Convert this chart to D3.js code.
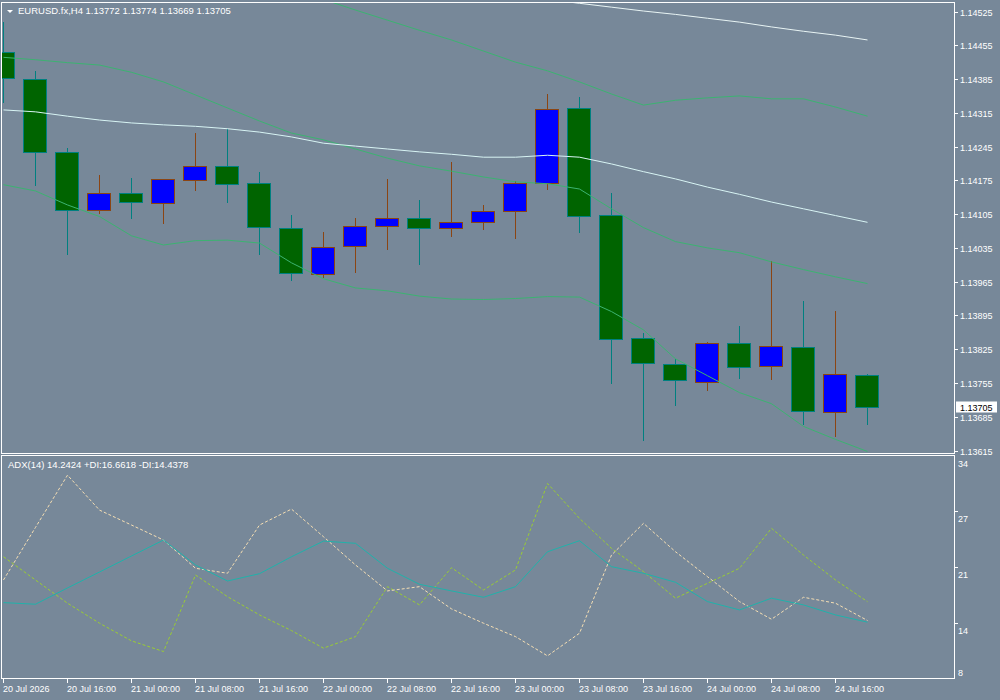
<!DOCTYPE html>
<html>
<head>
<meta charset="utf-8">
<script src="https://cdn.jsdelivr.net/npm/d3@7"></script>
<style>
body { margin: 0; background: #778899; }
text { font-family: "Liberation Sans", Arial, sans-serif; font-size: 9px; fill: #fff; }
text.head { font-size: 9.5px; }
</style>
</head>
<body>
<svg id="chart" width="1000" height="700"></svg>
<script>
// EURUSD.fx H4, 20 Jul 08:00 .. 24 Jul 20:00
var times = ["20 Jul 08:00", "20 Jul 12:00", "20 Jul 16:00", "20 Jul 20:00", "21 Jul 00:00", "21 Jul 04:00", "21 Jul 08:00",
  "21 Jul 12:00", "21 Jul 16:00", "21 Jul 20:00", "22 Jul 00:00", "22 Jul 04:00", "22 Jul 08:00", "22 Jul 12:00",
  "22 Jul 16:00", "22 Jul 20:00", "23 Jul 00:00", "23 Jul 04:00", "23 Jul 08:00", "23 Jul 12:00", "23 Jul 16:00",
  "23 Jul 20:00", "24 Jul 00:00", "24 Jul 04:00", "24 Jul 08:00", "24 Jul 12:00", "24 Jul 16:00", "24 Jul 20:00"];

var opens = [1.14441, 1.14386, 1.14233, 1.14113, 1.14148, 1.14128, 1.14175, 1.14204, 1.14169, 1.14076, 1.13981, 1.14039, 1.14080, 1.14097,
  1.14076, 1.14088, 1.14111, 1.14170, 1.14324, 1.14103, 1.13848, 1.13794, 1.13756, 1.13838, 1.13790, 1.13830, 1.13695, 1.13772];
var highs = [1.14503, 1.14402, 1.14242, 1.14186, 1.14180, 1.14178, 1.14273, 1.14282, 1.14192, 1.14103, 1.14068, 1.14097, 1.14178, 1.14134,
  1.14213, 1.14124, 1.14174, 1.14354, 1.14348, 1.14149, 1.13859, 1.13805, 1.13839, 1.13874, 1.14008, 1.13925, 1.13905, 1.13774];
var lows = [1.14338, 1.14166, 1.14022, 1.14108, 1.14096, 1.14086, 1.14156, 1.14131, 1.14022, 1.13969, 1.13974, 1.13984, 1.14032, 1.14001,
  1.14059, 1.14075, 1.14056, 1.14157, 1.14067, 1.13754, 1.13636, 1.13709, 1.13740, 1.13765, 1.13763, 1.13669, 1.13645, 1.13669];
var closes = [1.14388, 1.14233, 1.14113, 1.14148, 1.14130, 1.14177, 1.14204, 1.14167, 1.14078, 1.13983, 1.14037, 1.14080, 1.14097, 1.14076,
  1.14088, 1.14111, 1.14170, 1.14322, 1.14101, 1.13846, 1.13796, 1.13761, 1.13838, 1.13788, 1.13832, 1.13696, 1.13774, 1.13705];

// envelope / moving average lines on the price chart (null = off chart)
var bandUpper = [null, null, null, null, null, null, null, null, null, 1.14573, 1.14550, 1.14528, 1.14507, 1.14486,
  1.14466, 1.14443, 1.14420, 1.14402, 1.14379, 1.14354, 1.14331, 1.14341, 1.14346, 1.14350, 1.14344, 1.14344, 1.14327, 1.14308];
var bandMiddle = [1.14430, 1.14425, 1.14419, 1.14414, 1.14399, 1.14379, 1.14352, 1.14325, 1.14298, 1.14273, 1.14259, 1.14240, 1.14221, 1.14205,
  1.14194, 1.14182, 1.14172, 1.14168, 1.14157, 1.14116, 1.14077, 1.14048, 1.14035, 1.14025, 1.14006, 1.13990, 1.13975, 1.13961];
var bandLower = [1.14166, 1.14153, 1.14124, 1.14100, 1.14060, 1.14041, 1.14050, 1.14051, 1.14045, 1.14004, 1.13971, 1.13952, 1.13946, 1.13935,
  1.13929, 1.13928, 1.13930, 1.13934, 1.13933, 1.13903, 1.13865, 1.13805, 1.13770, 1.13735, 1.13712, 1.13665, 1.13638, 1.13613];
var maSlow = [1.14321, 1.14317, 1.14308, 1.14300, 1.14294, 1.14290, 1.14287, 1.14282, 1.14275, 1.14265, 1.14252, 1.14246, 1.14240, 1.14234,
  1.14229, 1.14223, 1.14223, 1.14227, 1.14223, 1.14209, 1.14193, 1.14178, 1.14161, 1.14146, 1.14130, 1.14116, 1.14102, 1.14088];
var maTop = [null, null, null, null, null, null, null, null, null, null, null, null, null, null,
  null, null, 1.14559, 1.14550, 1.14542, 1.14534, 1.14526, 1.14519, 1.14511, 1.14503, 1.14493, 1.14484, 1.14476, 1.14466];

// ADX(14)
var adx = [16.55, 16.36, 18.28, 20.16, 22.05, 23.93, 20.99, 19.10, 19.96, 21.96, 23.81, 23.54, 20.60, 18.71,
  17.93, 17.18, 18.43, 22.55, 23.85, 20.79, 20.01, 18.95, 16.67, 15.69, 17.07, 16.28, 15.10, 14.24];
var plusDI = [21.96, 19.22, 16.48, 14.12, 12.04, 10.78, 19.81, 17.25, 15.10, 13.25, 11.18, 12.54, 18.43, 16.28,
  20.67, 18.04, 20.40, 30.60, 26.48, 22.95, 20.20, 17.07, 18.83, 20.60, 25.31, 22.16, 19.22, 16.66];
var minusDI = [19.22, 25.42, 31.58, 27.46, 25.70, 23.93, 20.60, 20.01, 25.70, 27.58, 24.32, 20.99, 17.93, 18.43,
  15.81, 14.12, 12.54, 10.27, 12.94, 22.16, 25.90, 22.55, 19.61, 16.67, 14.59, 17.18, 16.48, 14.44];
var adxLastValues = [14.2424, 16.6618, 14.4378];

var priceTicks = [1.14525, 1.14455, 1.14385, 1.14315, 1.14245, 1.14175, 1.14105, 1.14035, 1.13965, 1.13895, 1.13825, 1.13755, 1.13685, 1.13615];
var adxRange = [7.6, 33.9];
var adxTickLabels = ["34", "27", "21", "14", "8"];
var timeTickIdx = [0, 2, 4, 6, 8, 10, 12, 14, 16, 18, 20, 22, 24, 26];
var timeTickLabels = ["20 Jul 2026", "20 Jul 16:00", "21 Jul 00:00", "21 Jul 08:00", "21 Jul 16:00", "22 Jul 00:00", "22 Jul 08:00",
  "22 Jul 16:00", "23 Jul 00:00", "23 Jul 08:00", "23 Jul 16:00", "24 Jul 00:00", "24 Jul 08:00", "24 Jul 16:00"];

var svg = d3.select("#chart"),
    left = 1.5, right = 954.5,
    mainTop = 2.5, mainBottom = 453.5,
    subTop = 455.5, subBottom = 678.5;

var x = d3.scaleLinear().domain([0, times.length - 1]).range([3.5, 3.5 + 32 * (times.length - 1)]);
var y = d3.scaleLinear().domain([1.13615, 1.14525]).range([450.5, 11.5]);
var ya = d3.scaleLinear().domain(adxRange).range([subBottom, subTop]);

var defs = svg.append("defs");
defs.append("clipPath").attr("id", "clipMain").append("rect")
    .attr("x", left).attr("y", mainTop).attr("width", right - left).attr("height", mainBottom - mainTop);
defs.append("clipPath").attr("id", "clipSub").append("rect")
    .attr("x", left).attr("y", subTop).attr("width", right - left).attr("height", subBottom - subTop);

svg.append("rect").attr("width", 1000).attr("height", 700).attr("fill", "#778899");

// candles
var candles = times.map(function(t, i) {
    return {i: i, o: opens[i], h: highs[i], l: lows[i], c: closes[i]};
});
function bear(d) { return d.c < d.o; }
var main = svg.append("g").attr("clip-path", "url(#clipMain)");

main.append("g").selectAll("line")
  .data(candles)
  .enter().append("line")
    .attr("x1", function(d) { return x(d.i); })
    .attr("x2", function(d) { return x(d.i); })
    .attr("y1", function(d) { return Math.round(y(d.h)); })
    .attr("y2", function(d) { return Math.round(y(d.l)) + 1; })
    .attr("stroke", function(d) { return bear(d) ? "#008080" : "#8b4513"; })
    .attr("shape-rendering", "crispEdges");

main.append("g").selectAll("rect")
  .data(candles)
  .enter().append("rect")
    .attr("x", function(d) { return x(d.i) - 12; })
    .attr("width", 23)
    .attr("y", function(d) { return Math.round(y(Math.max(d.o, d.c))) + 0.5; })
    .attr("height", function(d) { return Math.max(1, Math.round(y(Math.min(d.o, d.c))) - Math.round(y(Math.max(d.o, d.c)))); })
    .attr("fill", function(d) { return bear(d) ? "#006400" : "#0000ff"; })
    .attr("stroke", function(d) { return bear(d) ? "#008080" : "#8b4513"; })
    .attr("shape-rendering", "crispEdges");

// lines on price chart
var priceLine = d3.line()
    .defined(function(d) { return d != null; })
    .x(function(d, i) { return x(i); })
    .y(function(d) { return y(d); });

[[bandUpper, "#3cb371"], [bandMiddle, "#3cb371"], [bandLower, "#3cb371"], [maSlow, "#d8f4f4"], [maTop, "#e8f4f4"]]
  .forEach(function(s) {
    main.append("path").datum(s[0])
      .attr("d", priceLine)
      .attr("fill", "none")
      .attr("stroke", s[1])
      .attr("stroke-width", 1);
  });

// ADX panel
var sub = svg.append("g").attr("clip-path", "url(#clipSub)");
var adxLine = d3.line()
    .x(function(d, i) { return x(i); })
    .y(function(d) { return ya(d); });

sub.append("path").datum(plusDI).attr("d", adxLine)
  .attr("fill", "none").attr("stroke", "#9acd32").attr("stroke-dasharray", "3,2");
sub.append("path").datum(minusDI).attr("d", adxLine)
  .attr("fill", "none").attr("stroke", "#f5deb3").attr("stroke-dasharray", "3,2");
sub.append("path").datum(adx).attr("d", adxLine)
  .attr("fill", "none").attr("stroke", "#20b2aa");

// frames
[[mainTop, mainBottom], [subTop, subBottom]].forEach(function(p) {
    svg.append("rect")
      .attr("x", left).attr("y", p[0])
      .attr("width", right - left).attr("height", p[1] - p[0])
      .attr("fill", "none").attr("stroke", "#fff")
      .attr("shape-rendering", "crispEdges");
});

// price axis
var pa = svg.append("g");
pa.selectAll("line").data(priceTicks).enter().append("line")
    .attr("x1", right).attr("x2", right + 3)
    .attr("y1", function(d) { return Math.round(y(d)) + 0.5; })
    .attr("y2", function(d) { return Math.round(y(d)) + 0.5; })
    .attr("stroke", "#fff").attr("shape-rendering", "crispEdges");
pa.selectAll("text").data(priceTicks).enter().append("text")
    .attr("x", 960)
    .attr("y", function(d) { return y(d) + 4; })
    .text(function(d) { return d.toFixed(5); });

// current price tag
var last = closes[closes.length - 1];
svg.append("rect").attr("x", 956).attr("y", Math.round(y(last)) - 5.5)
    .attr("width", 41).attr("height", 11).attr("fill", "#fff");
svg.append("text").attr("x", 960).attr("y", y(last) + 3.5)
    .style("fill", "#000").text(last.toFixed(5));

// ADX axis
var adxStep = (adxRange[1] - adxRange[0]) / (adxTickLabels.length - 1);
var sa = svg.append("g");
adxTickLabels.forEach(function(lbl, k) {
    var v = adxRange[1] - k * adxStep, py = ya(v);
    if (k > 0 && k < adxTickLabels.length - 1) {
        sa.append("line").attr("x1", right).attr("x2", right + 3)
          .attr("y1", Math.round(py) + 0.5).attr("y2", Math.round(py) + 0.5)
          .attr("stroke", "#fff").attr("shape-rendering", "crispEdges");
    }
    sa.append("text").attr("x", 958)
      .attr("y", k == adxTickLabels.length - 1 ? py - 2.5 : py + 11)
      .text(lbl);
});

// time axis
var ta = svg.append("g");
ta.selectAll("line").data(timeTickIdx).enter().append("line")
    .attr("x1", function(d) { return x(d); }).attr("x2", function(d) { return x(d); })
    .attr("y1", subBottom).attr("y2", subBottom + 4)
    .attr("stroke", "#fff").attr("shape-rendering", "crispEdges");
ta.selectAll("text").data(timeTickIdx).enter().append("text")
    .attr("x", function(d) { return x(d) - 0.5; })
    .attr("y", 692)
    .text(function(d, k) { return timeTickLabels[k]; });

// headers
svg.append("path").attr("d", "M7,10 L13,10 L10,13 Z").attr("fill", "#fff");
svg.append("text").attr("class", "head").attr("x", 18).attr("y", 14)
    .text("EURUSD.fx,H4  " + [opens, highs, lows, closes].map(function(a) { return a[a.length - 1].toFixed(5); }).join(" "));
svg.append("text").attr("class", "head").attr("x", 8).attr("y", 468)
    .text("ADX(14) " + adxLastValues[0].toFixed(4) + " +DI:" + adxLastValues[1].toFixed(4) + " -DI:" + adxLastValues[2].toFixed(4));
</script>
</body>
</html>
